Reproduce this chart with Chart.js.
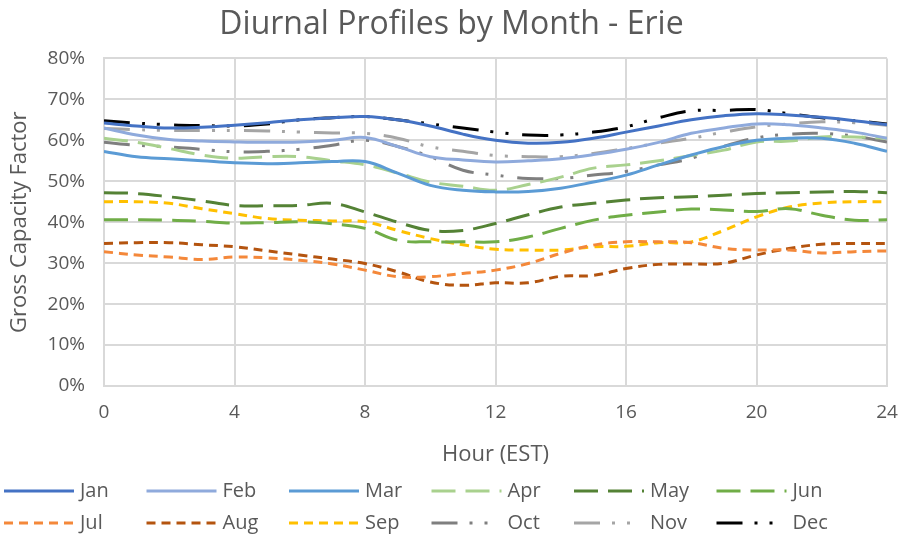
<!DOCTYPE html>
<html>
<head>
<meta charset="utf-8">
<script src="https://cdn.jsdelivr.net/npm/chart.js@4/dist/chart.umd.min.js"></script>
<style>
  body { margin: 0; background: #fff; }
</style>
</head>
<body>
<canvas id="chart1" width="903" height="539"></canvas>
<script>
// hours 0..24
const hours = [0,1,2,3,4,5,6,7,8,9,10,11,12,13,14,15,16,17,18,19,20,21,22,23,24];

// gross capacity factor (%)
const jan = [64.2,63.5,63.0,63.2,63.7,64.3,65.0,65.5,65.8,65.0,63.5,61.5,60.0,59.3,59.5,60.5,62.0,63.5,65.0,66.0,66.5,66.2,65.6,64.8,63.8];
const feb = [63.0,61.3,60.2,59.8,59.6,59.5,59.6,60.0,60.7,58.5,56.0,55.2,54.7,55.0,55.5,56.5,57.8,59.5,61.7,63.0,64.0,63.8,63.0,62.0,60.5];
const mar = [57.3,56.0,55.5,55.0,54.5,54.3,54.5,54.8,54.8,52.0,49.0,47.8,47.4,47.5,48.3,49.8,51.5,54.0,56.4,58.5,60.0,60.5,60.5,59.3,57.3];
const apr = [60.5,59.5,58.0,56.4,55.6,56.0,56.0,55.0,54.0,52.0,49.8,48.8,47.8,49.2,51.0,53.2,54.0,55.0,56.3,57.6,59.6,59.8,60.8,60.8,60.5];
const may = [47.2,47.0,46.2,45.2,44.1,44.0,44.1,44.6,42.5,40.0,38.0,38.0,39.7,41.8,43.7,44.6,45.4,46.0,46.2,46.6,47.0,47.2,47.4,47.5,47.2];
const jun = [40.6,40.6,40.5,40.2,39.8,39.9,40.1,39.6,38.5,35.6,35.2,35.2,35.2,36.4,38.5,40.5,41.7,42.5,43.2,43.0,42.6,43.3,41.7,40.5,40.6];
const jul = [32.8,32.0,31.5,30.9,31.5,31.3,30.7,29.8,28.3,26.7,26.7,27.5,28.3,29.9,32.4,34.4,35.2,35.2,35.0,33.6,33.2,33.2,32.5,32.8,33.0];
const aug = [34.8,35.0,35.0,34.5,34.0,33.0,32.0,31.0,29.9,27.9,25.4,24.6,25.2,25.2,26.8,27.0,28.7,29.7,29.8,30.0,32.0,33.6,34.6,34.8,34.8];
const sep = [45.0,45.0,44.6,43.3,42.1,40.9,40.5,40.3,40.1,38.0,36.0,34.5,33.4,33.2,33.2,34.0,34.1,35.0,35.2,38.0,41.3,43.7,44.7,45.0,45.0];
const oct = [59.5,58.8,58.4,57.8,57.2,57.3,57.8,58.8,60.0,58.5,56.0,52.7,51.5,50.7,50.7,51.5,52.4,54.0,55.6,58.5,60.6,61.5,61.7,61.0,59.6];
const nov = [62.9,62.6,62.4,62.4,62.4,62.3,62.0,61.8,61.7,60.5,58.4,57.3,56.3,56.0,56.0,56.8,58.0,59.3,60.5,62.0,63.3,64.0,64.5,64.3,63.7];
const dec = [64.8,64.2,63.8,63.6,63.5,64.0,65.0,65.5,65.8,65.0,64.0,63.0,62.0,61.3,61.3,62.0,63.3,65.5,67.2,67.3,67.5,66.5,65.5,64.8,64.0];

const months = ['Jan','Feb','Mar','Apr','May','Jun','Jul','Aug','Sep','Oct','Nov','Dec'];
const series = [jan, feb, mar, apr, may, jun, jul, aug, sep, oct, nov, dec];
const colors = ['#4472C4','#8FAADC','#5B9BD5','#A9D18E','#548235','#70AD47',
                '#F4883A','#B4540F','#FFC000','#7F7F7F','#A5A5A5','#000000'];

const solid = [];
const longDash = [24, 10];
const shortDash = [9, 6];
const dashDotDot = [26, 12, 3, 12, 3, 14];
const dashes = [solid, solid, solid, longDash, longDash, longDash,
                shortDash, shortDash, shortDash, dashDotDot, dashDotDot, dashDotDot];

const grey = '#595959';
const font = "'Open Sans', sans-serif";

function makeData(arr) {
  let pts = [];
  for (let i = 0; i < hours.length; i++) {
    pts.push({x: hours[i], y: arr[i]});
  }
  return pts;
}

let datasets = [];
for (let i = 0; i < months.length; i++) {
  datasets.push({
    label: months[i],
    data: makeData(series[i]),
    borderColor: colors[i],
    backgroundColor: colors[i],
    borderDash: dashes[i],
    borderWidth: 3,
    pointRadius: 0,
    tension: 0.4,
    fill: false
  });
}

// legend drawn in a fixed 6 x 2 grid like the excel one
const gridLegend = {
  id: 'gridLegend',
  afterDraw(chart) {
    const ctx = chart.ctx;
    ctx.save();
    chart.data.datasets.forEach((ds, i) => {
      let col = i % 6;
      let row = Math.floor(i / 6);
      let x = 4 + col * 142.5;
      let y = 491 + row * 32;
      ctx.strokeStyle = ds.borderColor;
      ctx.lineWidth = 3;
      ctx.setLineDash(ds.borderDash);
      ctx.beginPath();
      ctx.moveTo(x, y);
      ctx.lineTo(x + 70, y);
      ctx.stroke();
      ctx.setLineDash([]);
      ctx.fillStyle = grey;
      ctx.font = '20px ' + font;
      ctx.textBaseline = 'middle';
      ctx.fillText(ds.label, x + 76, y);
    });
    ctx.restore();
  }
};

let myChart1 = new Chart(document.getElementById('chart1'), {
  type: 'line',
  data: { datasets: datasets },
  plugins: [gridLegend],
  options: {
    responsive: false,
    animation: false,
    layout: { padding: { left: 0, right: 0, top: 0, bottom: 69 } },
    plugins: {
      legend: { display: false },
      tooltip: { enabled: false },
      title: {
        display: true,
        text: 'Diurnal Profiles by Month - Erie',
        color: grey,
        font: { family: font, size: 32, weight: 'normal' },
        padding: { top: 6, bottom: 14 }
      }
    },
    scales: {
      x: {
        type: 'linear',
        min: 0,
        max: 24,
        ticks: { stepSize: 4, color: grey, padding: 15, font: { family: font, size: 19 } },
        grid: { color: '#D9D9D9', lineWidth: 2, drawTicks: false },
        border: { color: '#D9D9D9', width: 2 },
        title: { display: true, text: 'Hour (EST)', color: grey,
                 font: { family: font, size: 22 }, padding: { top: 10, bottom: 2 } },
        afterFit: function(scale) {
          scale.height = 84;
          scale.paddingLeft = 0;
          scale.paddingRight = 16;
        }
      },
      y: {
        min: 0,
        max: 80,
        ticks: { stepSize: 10, color: grey, padding: 19, font: { family: font, size: 19 },
                 callback: function(v) { return v + '%'; } },
        grid: { color: '#D9D9D9', lineWidth: 2, drawTicks: false },
        border: { color: '#D9D9D9', width: 2 },
        title: { display: true, text: 'Gross Capacity Factor', color: grey,
                 font: { family: font, size: 22 }, padding: { top: 7, bottom: 4 } },
        afterFit: function(scale) { scale.width = 104; }
      }
    }
  }
});
</script>
</body>
</html>
